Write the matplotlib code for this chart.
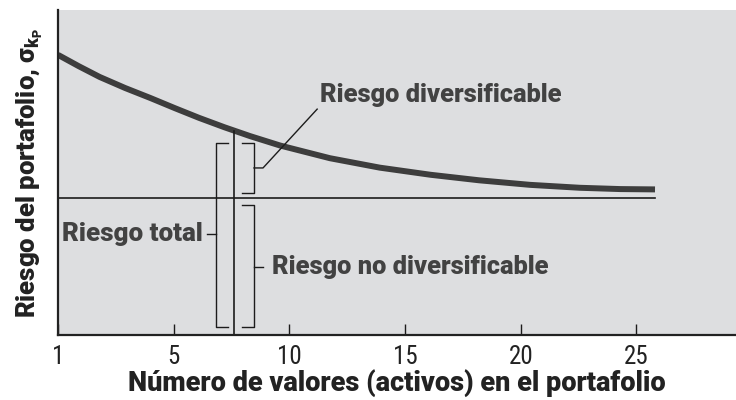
import numpy as np
import matplotlib
matplotlib.use('Agg')
import matplotlib.pyplot as plt

plt.rcParams['font.family'] = ['Roboto', 'DejaVu Sans']
plt.rcParams['mathtext.fontset'] = 'custom'
plt.rcParams['mathtext.rm'] = 'Roboto:weight=900'
plt.rcParams['mathtext.it'] = 'Roboto:weight=900'
plt.rcParams['mathtext.bf'] = 'Roboto:weight=900'
plt.rcParams['mathtext.default'] = 'bf'

#------------------------------- data ----------------------------------------
# x: securities in portfolio (axis origin is labelled "1"), y: portfolio risk
n_assets = [0, 0.9, 1.8, 2.9, 4.0, 5.05, 6.1, 7.2, 8.3, 9.6, 11.75, 13.9,
            16.1, 18.2, 20.4, 22.55, 24.3, 25.8]
risk = [8.62, 8.27, 7.94, 7.6, 7.29, 6.98, 6.68, 6.39, 6.12, 5.83, 5.44,
        5.15, 4.93, 4.76, 4.62, 4.53, 4.49, 4.48]
market_risk = 4.22          # non-diversifiable level
tick_pos = [0, 5, 10, 15, 20, 25]
tick_labels = ['1', '5', '10', '15', '20', '25']

txt_col = '#424242'
line_col = '#1c1c1c'
bg_col = '#dddee0'

fig = plt.figure(figsize=(7.36, 4.0), dpi=100)
ax = fig.add_axes([0.0788, 0.1625, 0.9212, 0.8125])
ax.set_facecolor(bg_col)

# main curve + market risk line
ax.plot(n_assets, risk, color='#3d3d3d', lw=4.3, solid_capstyle='butt',
        solid_joinstyle='round')
ax.plot([0, n_assets[-1]], [market_risk, market_risk], color=line_col, lw=1.2)

# vertical divider at the chosen portfolio size
xc = 7.6
yc = np.interp(xc, n_assets, risk)
ax.plot([xc, xc], [0, yc], color=line_col, lw=1.2)

kw = dict(color=line_col, lw=1.0)
top, bot = 5.91, 0.25
# "Riesgo total" bracket
ax.plot([7.34, 6.83, 6.83, 7.34], [top, top, bot, bot], **kw)
ax.plot([6.83, 6.44], [3.11, 3.11], **kw)
# diversifiable bracket
ax.plot([7.95, 8.47, 8.47, 7.95], [top, top, 4.37, 4.37], **kw)
ax.plot([8.47, 8.86, 11.2], [5.14, 5.14, 6.95], **kw)
# non-diversifiable bracket
ax.plot([7.95, 8.47, 8.47, 7.95], [4.0, 4.0, bot, bot], **kw)
ax.plot([8.47, 8.86], [2.09, 2.09], **kw)

ax.text(11.32, 7.38, 'Riesgo diversificable', ha='left', va='center',
        color=txt_col, fontsize=18.3, fontweight=900)
ax.text(9.24, 2.09, 'Riesgo no diversificable', ha='left', va='center',
        color=txt_col, fontsize=18.3, fontweight=900)
ax.text(6.26, 3.11, 'Riesgo total', ha='right', va='center',
        color=txt_col, fontsize=18.7, fontweight=900)

ax.set_xlim(0, 29.3)
ax.set_ylim(0, 10)
ax.set_xticks(tick_pos)
ax.set_xticklabels(tick_labels, fontsize=18, color='#222222',
                   family=['Roboto Condensed'], fontweight=400)
ax.set_yticks([])
ax.tick_params(axis='x', direction='in', length=8, width=1.0, pad=7,
               color=line_col)
for s in ['top', 'right']:
    ax.spines[s].set_visible(False)
for s in ['left', 'bottom']:
    ax.spines[s].set_linewidth(1.6)
    ax.spines[s].set_color('#222222')

ax.set_xlabel('Número de valores (activos) en el portafolio', fontsize=19.5,
              fontweight=900, color='#222222', labelpad=0)
ax.set_ylabel(r'Riesgo del portafolio, $\sigma_{k_P}$', fontsize=18.5,
              fontweight=900, color='#222222', labelpad=9)

plt.savefig('out.png', dpi=100)
